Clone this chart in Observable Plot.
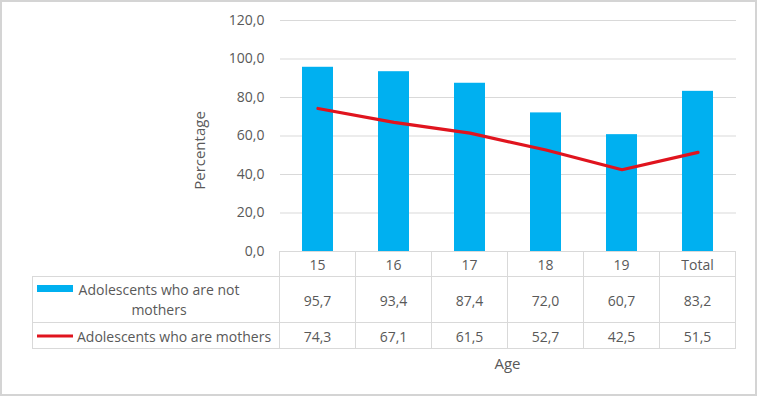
<!DOCTYPE html>
<html><head><meta charset="utf-8">
<script src="https://cdn.jsdelivr.net/npm/d3@7"></script>
<script src="https://cdn.jsdelivr.net/npm/@observablehq/plot@0.6"></script>
<style>body{margin:0;background:#fff} #chart{width:758px;height:397px;position:relative}</style>
</head><body><div id="chart"></div>
<script>
const ages = ["15", "16", "17", "18", "19", "Total"];
const notMothers = [95.7, 93.4, 87.4, 72.0, 60.7, 83.2];
const mothers = [74.3, 67.1, 61.5, 52.7, 42.5, 51.5];
const seriesNames = ["Adolescents who are not mothers", "Adolescents who are mothers"];
const yTicks = [0, 20, 40, 60, 80, 100, 120];
const yLabel = "Percentage";
const xLabel = "Age";

const BLUE = "#00B0F0", RED = "#E0141E", GRID = "#d9d9d9", TXT = "#595959";
const FONT = "'Open Sans', sans-serif";
const fmt = v => v.toFixed(1).replace(".", ",");
const barData = ages.map((a, i) => ({age: a, value: notMothers[i]}));
const lineData = ages.map((a, i) => ({age: a, value: mothers[i]}));

const chart = Plot.plot({
  width: 758, height: 397,
  marginLeft: 280, marginRight: 22, marginTop: 20, marginBottom: 146,
  style: {fontFamily: FONT, fontSize: "14px", color: TXT, background: "#fff"},
  x: {domain: ages, paddingInner: 0.59, paddingOuter: 0.295, axis: null},
  y: {domain: [0, 120], ticks: yTicks, tickFormat: fmt, tickSize: 0, tickPadding: 16, label: null},
  marks: [
    Plot.ruleY(yTicks, {stroke: GRID, strokeWidth: 1}),
    Plot.barY(barData, {x: "age", y: "value", fill: BLUE}),
    Plot.line(lineData, {x: "age", y: "value", stroke: RED, strokeWidth: 3.2})
  ]
});
document.getElementById("chart").appendChild(chart);

const svg = d3.select(chart);
const xs = chart.scale("x");
const ys = chart.scale("y");
const step = xs.step, bw = xs.bandwidth;
const colLeft = a => xs.apply(a) - (step - bw) / 2;
const left0 = colLeft(ages[0]);
const right0 = colLeft(ages[ages.length - 1]) + step;
const yTop = ys.apply(0);
const yHeadBot = yTop + 25, yRow1Bot = yHeadBot + 46, yRow2Bot = yRow1Bot + 26;
const tableLeft = 32;

// outer border
svg.append("rect").attr("x", 1).attr("y", 1).attr("width", 755).attr("height", 394)
  .attr("fill", "none").attr("stroke", "#d4d4d4").attr("stroke-width", 2);

const g = svg.append("g").attr("stroke", GRID).attr("stroke-width", 1).attr("shape-rendering", "crispEdges");
// horizontal lines
g.append("line").attr("x1", left0).attr("x2", right0).attr("y1", yTop).attr("y2", yTop);
[yHeadBot, yRow1Bot, yRow2Bot].forEach(y => g.append("line").attr("x1", tableLeft).attr("x2", right0).attr("y1", y).attr("y2", y));
// vertical lines
ages.forEach(a => g.append("line").attr("x1", colLeft(a)).attr("x2", colLeft(a)).attr("y1", yTop).attr("y2", yRow2Bot));
g.append("line").attr("x1", right0).attr("x2", right0).attr("y1", yTop).attr("y2", yRow2Bot);
g.append("line").attr("x1", tableLeft).attr("x2", tableLeft).attr("y1", yHeadBot).attr("y2", yRow2Bot);

const t = svg.append("g").attr("font-family", FONT).attr("font-size", 14).attr("fill", TXT)
  .attr("text-anchor", "middle").attr("dominant-baseline", "central");
const cx = a => xs.apply(a) + bw / 2;
ages.forEach((a, i) => {
  t.append("text").attr("x", cx(a)).attr("y", (yTop + yHeadBot) / 2 + 1).text(a);
  t.append("text").attr("x", cx(a)).attr("y", (yHeadBot + yRow1Bot) / 2 + 1).text(fmt(notMothers[i]));
  t.append("text").attr("x", cx(a)).attr("y", (yRow1Bot + yRow2Bot) / 2 + 1).text(fmt(mothers[i]));
});

// legend cells
const keyX = 37, keyW = 36;
const r1c = (yHeadBot + yRow1Bot) / 2, r2c = (yRow1Bot + yRow2Bot) / 2;
svg.append("rect").attr("x", keyX).attr("y", r1c - 14).attr("width", keyW).attr("height", 7).attr("fill", BLUE);
svg.append("line").attr("x1", keyX).attr("x2", keyX + keyW).attr("y1", r2c + 1).attr("y2", r2c + 1)
  .attr("stroke", RED).attr("stroke-width", 3);
const words = seriesNames[0].split(" ");
const line1 = words.slice(0, -1).join(" "), line2 = words[words.length - 1];
t.append("text").attr("x", 159).attr("y", r1c - 10).text(line1);
t.append("text").attr("x", 159).attr("y", r1c + 10).text(line2);
t.append("text").attr("x", 77).attr("y", r2c + 1).attr("text-anchor", "start").text(seriesNames[1]);

// axis titles
t.append("text").attr("x", (left0 + right0) / 2).attr("y", 363).attr("font-size", 15).text(xLabel);
t.append("text").attr("transform", `translate(199,${(20 + yTop) / 2 + 15}) rotate(-90)`).attr("font-size", 15).text(yLabel);
</script>
</body></html>
